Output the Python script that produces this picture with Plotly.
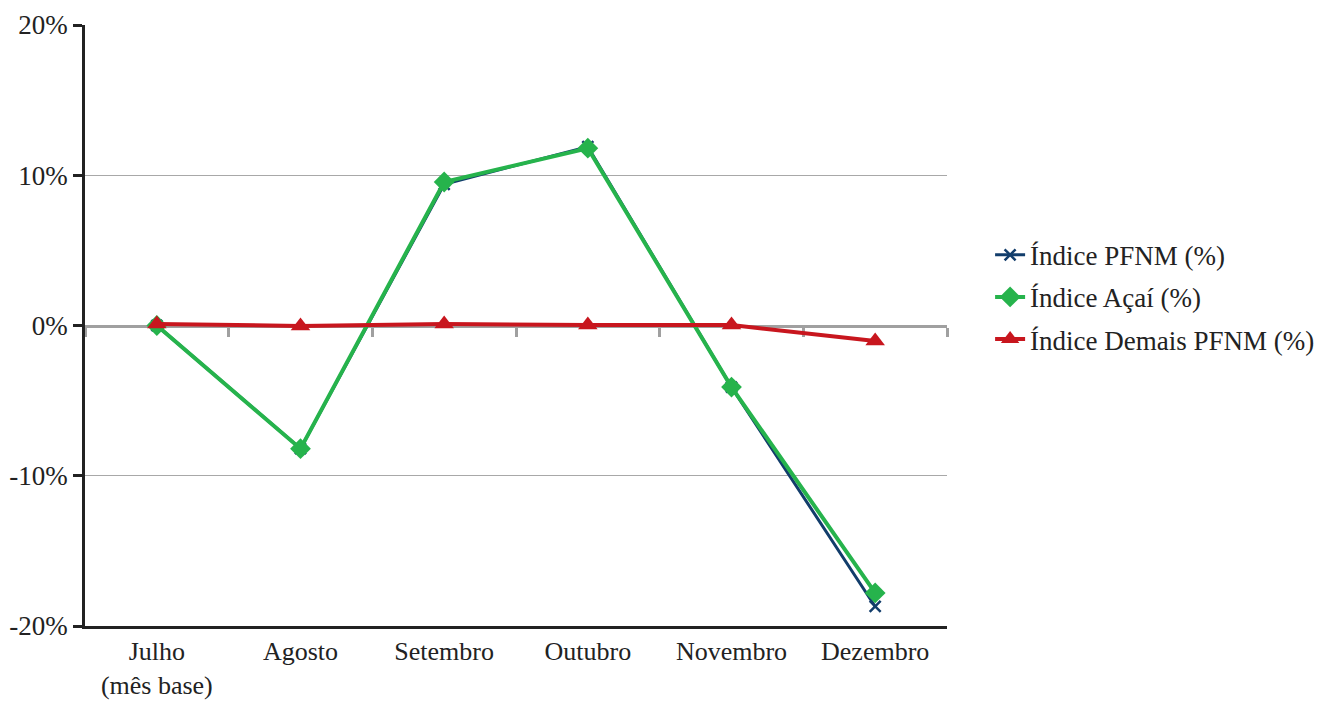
import plotly.graph_objects as go

# Monthly index values (%)
months = ["Julho<br>(mês base)", "Agosto", "Setembro", "Outubro", "Novembro", "Dezembro"]
indice_pfnm = [0.0, -8.2, 9.4, 11.9, -4.1, -18.7]
indice_acai = [0.0, -8.2, 9.55, 11.8, -4.1, -17.8]
indice_demais = [0.1, -0.03, 0.1, 0.03, 0.03, -1.03]
y_ticks = [-20, -10, 0, 10, 20]
y_tick_labels = ["-20%", "-10%", "0%", "10%", "20%"]

FONT = "Liberation Serif"

fig = go.Figure()

# Empty trace on the base subplot so the zero-crossing category axis is drawn
fig.add_trace(go.Scatter(
    x=months, y=[None] * len(months), xaxis="x", showlegend=False,
    hoverinfo="skip", mode="lines",
))

fig.add_trace(go.Scatter(
    x=months, y=indice_pfnm, name="Índice PFNM (%)", mode="lines+markers",
    xaxis="x2",
    line=dict(color="#123d6b", width=3),
    marker=dict(symbol="x-thin", size=11, line=dict(color="#123d6b", width=2.5)),
    legendgroup="a",
))
fig.add_trace(go.Scatter(
    x=months, y=indice_acai, name="Índice Açaí (%)", mode="lines+markers",
    xaxis="x2",
    line=dict(color="#26b34c", width=4),
    marker=dict(symbol="diamond", size=16, color="#26b34c"),
    legendgroup="b",
))
fig.add_trace(go.Scatter(
    x=months, y=indice_demais, name="Índice Demais PFNM (%)", mode="lines+markers",
    xaxis="x2",
    line=dict(color="#c8161e", width=4),
    marker=dict(symbol="triangle-up", size=17, color="#c8161e"),
    legendgroup="c",
))

fig.update_layout(
    width=1317, height=702,
    margin=dict(l=85, r=370, t=25, b=76, autoexpand=False),
    paper_bgcolor="white", plot_bgcolor="white",
    font=dict(family=FONT, size=27, color="#222222"),
    showlegend=True,
    legend=dict(
        x=1.05, y=0.547, xanchor="left", yanchor="middle",
        font=dict(family=FONT, size=27, color="#222222"),
        tracegroupgap=4, itemwidth=30,
    ),
    # Category axis through zero with tick marks at boundaries, kept under the lines
    xaxis=dict(
        type="category", range=[-0.5, 5.5],
        anchor="free", position=0.5, side="bottom", layer="below traces",
        showline=True, linecolor="#a0a0a0", linewidth=3,
        ticks="outside", tickson="boundaries", ticklen=9, tickwidth=2.5,
        tickcolor="#a0a0a0", showticklabels=False, showgrid=False,
        fixedrange=True,
    ),
    # Bottom frame axis carrying the month labels
    xaxis2=dict(
        type="category", range=[-0.5, 5.5], overlaying="x", anchor="y",
        showline=True, linecolor="#222222", linewidth=2.5,
        showgrid=False, ticks="", tickfont=dict(size=26),
        fixedrange=True,
    ),
    yaxis=dict(
        range=[-20, 20], tickvals=y_ticks, ticktext=y_tick_labels,
        showline=True, linecolor="#222222", linewidth=2.5,
        ticks="outside", ticklen=9, tickwidth=2.5, tickcolor="#222222",
        showgrid=True, gridcolor="#a8a8a8", gridwidth=1.3,
        zeroline=False, tickfont=dict(size=27),
    ),
)

fig.write_html("out.html")
